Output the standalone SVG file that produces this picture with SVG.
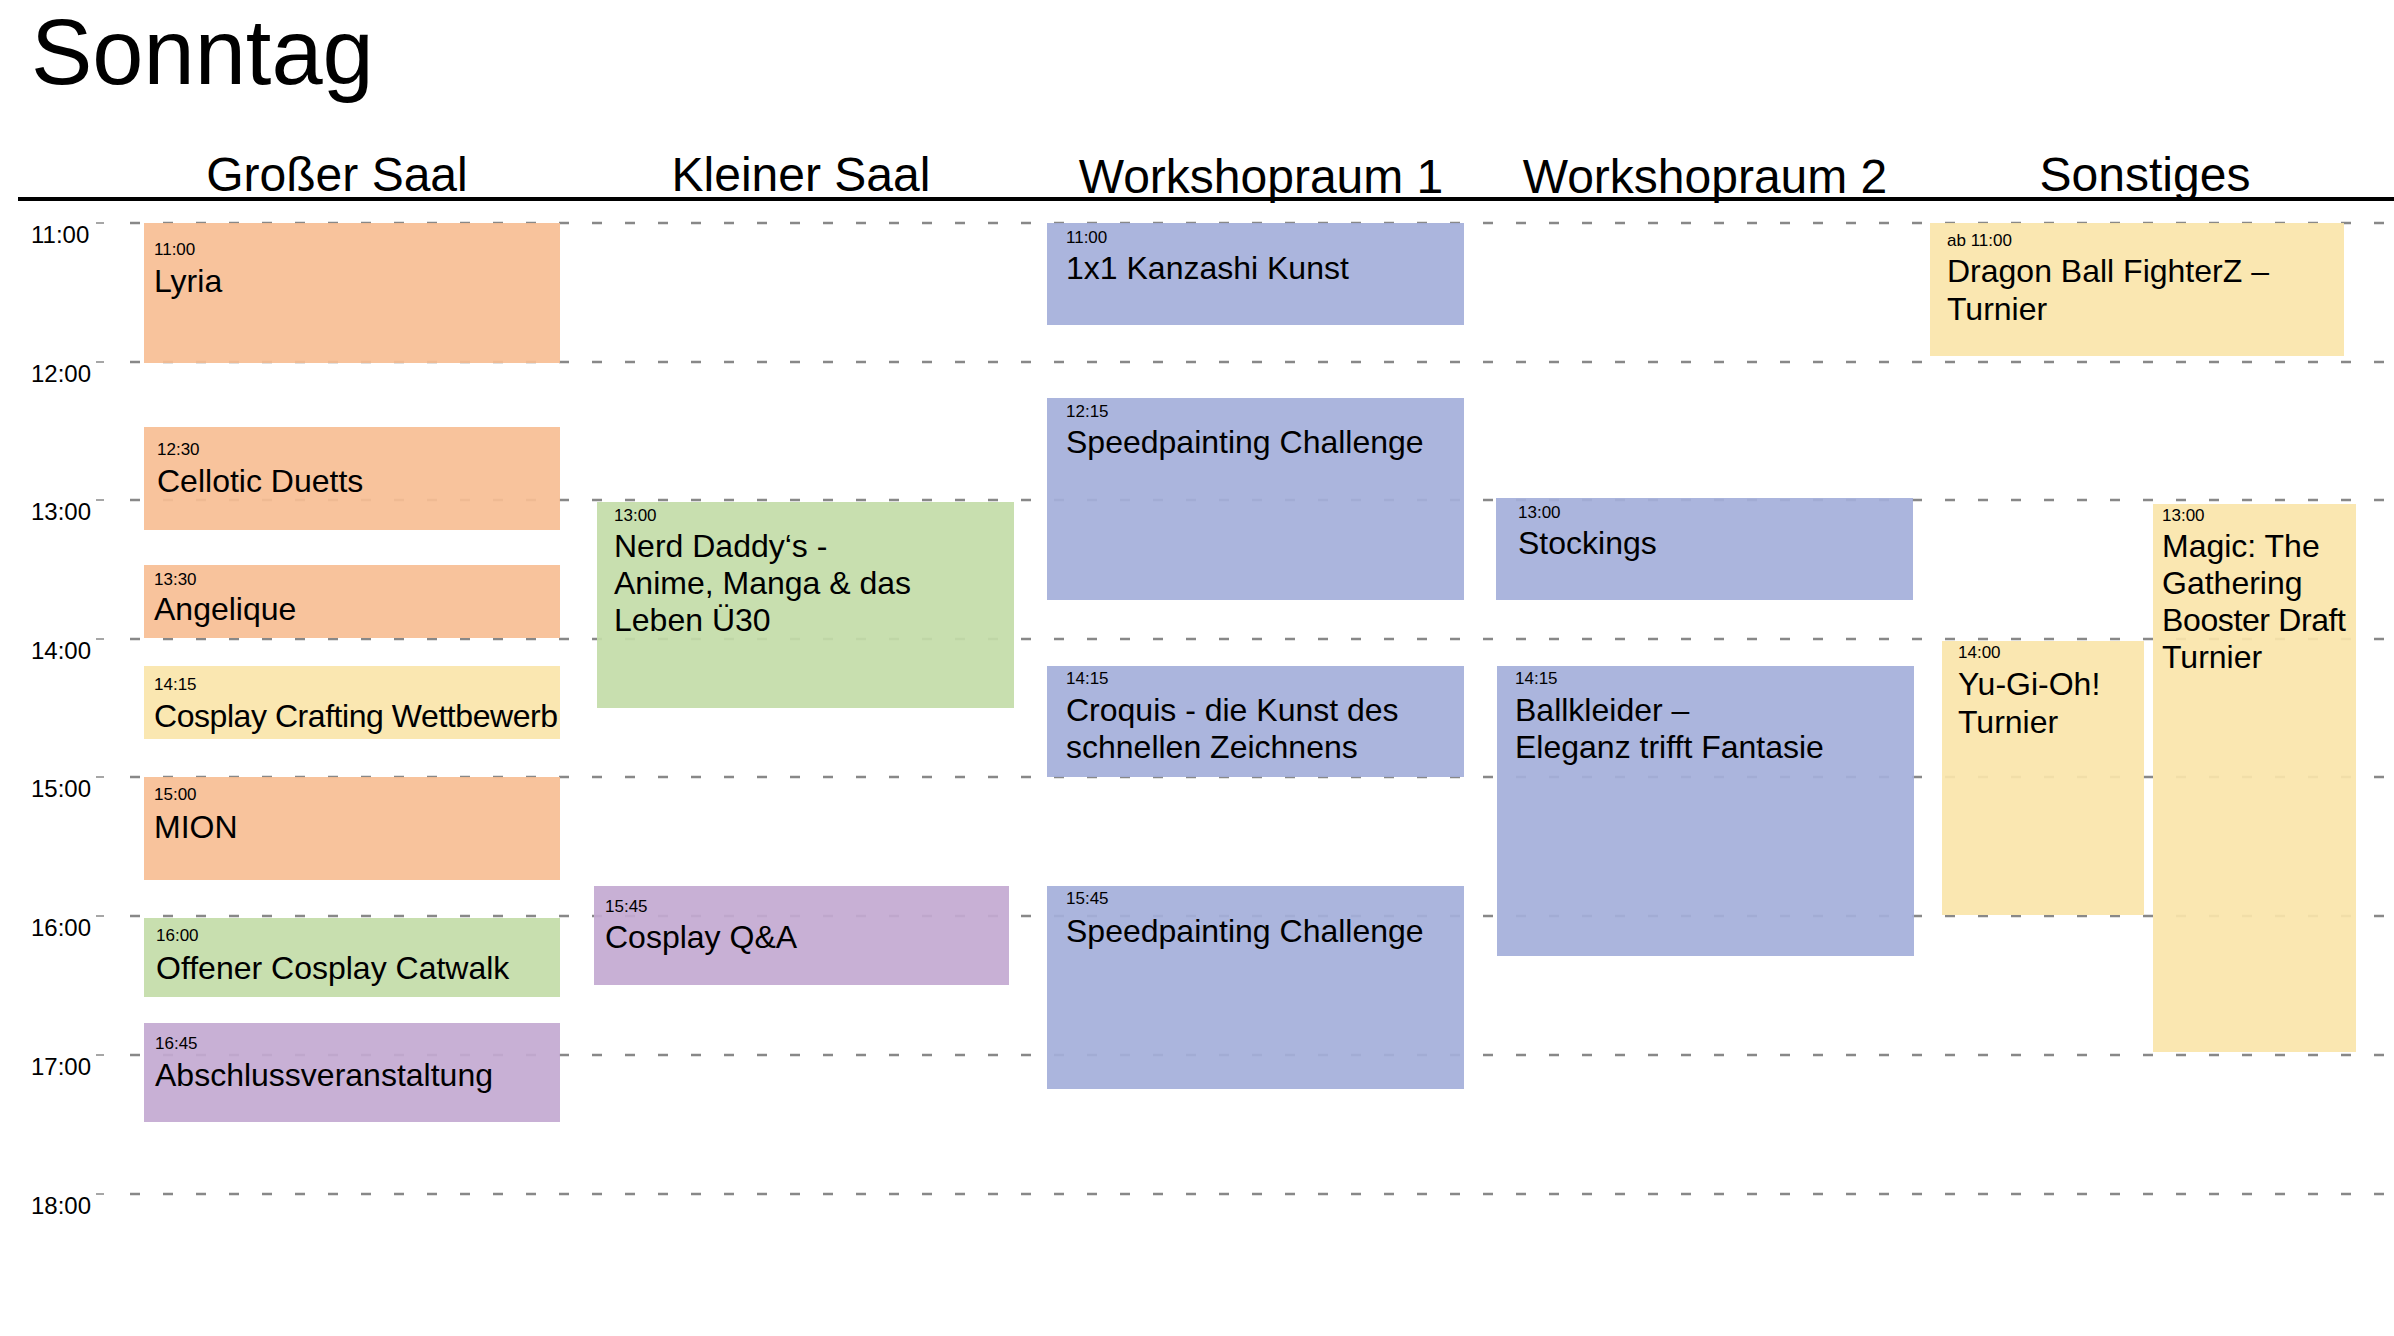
<svg xmlns="http://www.w3.org/2000/svg" width="2394" height="1336" viewBox="0 0 2394 1336">
<style>
text{font-family:"Liberation Sans",Arial,sans-serif;fill:#000}
.hd{font-size:48px;text-anchor:middle}
.hr{font-size:24px}
.t{font-size:17px}
.n{font-size:32px}
.grid{stroke:#888;stroke-width:2.5;stroke-dasharray:10 23}
.tick{stroke:#888;stroke-width:1.5}
.o{fill:#F7BE94;fill-opacity:0.92}
.g{fill:#C3DCA8;fill-opacity:0.92}
.p{fill:#C3A9D1;fill-opacity:0.92}
.b{fill:#A4AFDA;fill-opacity:0.92}
.y{fill:#FAE5AA;fill-opacity:0.92}
</style>
<rect width="2394" height="1336" fill="#fff"/>
<text x="31" y="84" font-size="92">Sonntag</text>
<g id="headers">
<text class="hd" x="337" y="191">Großer Saal</text>
<text class="hd" x="801" y="191">Kleiner Saal</text>
<text class="hd" x="1261" y="193">Workshopraum 1</text>
<text class="hd" x="1705" y="193">Workshopraum 2</text>
<text class="hd" x="2145" y="191">Sonstiges</text>
</g>
<line x1="18" y1="199" x2="2394" y2="199" stroke="#000" stroke-width="4"/>
<g id="grid">
<line class="grid" x1="130" y1="223" x2="2394" y2="223"/>
<line class="grid" x1="130" y1="362" x2="2394" y2="362"/>
<line class="grid" x1="130" y1="500" x2="2394" y2="500"/>
<line class="grid" x1="130" y1="639" x2="2394" y2="639"/>
<line class="grid" x1="130" y1="777" x2="2394" y2="777"/>
<line class="grid" x1="130" y1="916" x2="2394" y2="916"/>
<line class="grid" x1="130" y1="1055" x2="2394" y2="1055"/>
<line class="grid" x1="130" y1="1194" x2="2394" y2="1194"/>
<g class="tick">
<line x1="96" y1="223" x2="104" y2="223"/><line x1="96" y1="362" x2="104" y2="362"/>
<line x1="96" y1="500" x2="104" y2="500"/><line x1="96" y1="639" x2="104" y2="639"/>
<line x1="96" y1="777" x2="104" y2="777"/><line x1="96" y1="916" x2="104" y2="916"/>
<line x1="96" y1="1055" x2="104" y2="1055"/><line x1="96" y1="1194" x2="104" y2="1194"/>
</g>
<text class="hr" x="31" y="243">11:00</text>
<text class="hr" x="31" y="382">12:00</text>
<text class="hr" x="31" y="520">13:00</text>
<text class="hr" x="31" y="659">14:00</text>
<text class="hr" x="31" y="797">15:00</text>
<text class="hr" x="31" y="936">16:00</text>
<text class="hr" x="31" y="1075">17:00</text>
<text class="hr" x="31" y="1214">18:00</text>
</g>
<g id="lyria"><rect class="o" x="144" y="223" width="416" height="140"/><text class="t" x="154" y="255">11:00</text><text class="n" x="154" y="292">Lyria</text></g>
<g id="cellotic"><rect class="o" x="144" y="427" width="416" height="103"/><text class="t" x="157" y="455">12:30</text><text class="n" x="157" y="492">Cellotic Duetts</text></g>
<g id="angelique"><rect class="o" x="144" y="565" width="416" height="73"/><text class="t" x="154" y="585">13:30</text><text class="n" x="154" y="620">Angelique</text></g>
<g id="crafting"><rect class="y" x="144" y="666" width="416" height="73"/><text class="t" x="154" y="690">14:15</text><text class="n" x="154" y="727" textLength="404">Cosplay Crafting Wettbewerb</text></g>
<g id="mion"><rect class="o" x="144" y="777" width="416" height="103"/><text class="t" x="154" y="800">15:00</text><text class="n" x="154" y="838">MION</text></g>
<g id="catwalk"><rect class="g" x="144" y="918" width="416" height="79"/><text class="t" x="156" y="941">16:00</text><text class="n" x="156" y="979">Offener Cosplay Catwalk</text></g>
<g id="abschluss"><rect class="p" x="144" y="1023" width="416" height="99"/><text class="t" x="155" y="1049">16:45</text><text class="n" x="155" y="1086">Abschlussveranstaltung</text></g>
<g id="nerd"><rect class="g" x="597" y="502" width="417" height="206"/><text class="t" x="614" y="521">13:00</text><text class="n" x="614" y="557">Nerd Daddy‘s -</text><text class="n" x="614" y="594">Anime, Manga &amp; das</text><text class="n" x="614" y="631">Leben Ü30</text></g>
<g id="qa"><rect class="p" x="594" y="886" width="415" height="99"/><text class="t" x="605" y="912">15:45</text><text class="n" x="605" y="948">Cosplay Q&amp;A</text></g>
<g id="kanzashi"><rect class="b" x="1047" y="223" width="417" height="102"/><text class="t" x="1066" y="243">11:00</text><text class="n" x="1066" y="279">1x1 Kanzashi Kunst</text></g>
<g id="speed1"><rect class="b" x="1047" y="398" width="417" height="202"/><text class="t" x="1066" y="417">12:15</text><text class="n" x="1066" y="453">Speedpainting Challenge</text></g>
<g id="croquis"><rect class="b" x="1047" y="666" width="417" height="111"/><text class="t" x="1066" y="684">14:15</text><text class="n" x="1066" y="721">Croquis - die Kunst des</text><text class="n" x="1066" y="758">schnellen Zeichnens</text></g>
<g id="speed2"><rect class="b" x="1047" y="886" width="417" height="203"/><text class="t" x="1066" y="904">15:45</text><text class="n" x="1066" y="942">Speedpainting Challenge</text></g>
<g id="stockings"><rect class="b" x="1496" y="498" width="417" height="102"/><text class="t" x="1518" y="518">13:00</text><text class="n" x="1518" y="554">Stockings</text></g>
<g id="ballkleider"><rect class="b" x="1497" y="666" width="417" height="290"/><text class="t" x="1515" y="684">14:15</text><text class="n" x="1515" y="721">Ballkleider –</text><text class="n" x="1515" y="758">Eleganz trifft Fantasie</text></g>
<g id="dragonball"><rect class="y" x="1930" y="223" width="414" height="133"/><text class="t" x="1947" y="246">ab 11:00</text><text class="n" x="1947" y="282">Dragon Ball FighterZ –</text><text class="n" x="1947" y="320">Turnier</text></g>
<g id="yugioh"><rect class="y" x="1942" y="641" width="202" height="274"/><text class="t" x="1958" y="658">14:00</text><text class="n" x="1958" y="695">Yu-Gi-Oh!</text><text class="n" x="1958" y="733">Turnier</text></g>
<g id="magic"><rect class="y" x="2153" y="504" width="203" height="548"/><text class="t" x="2162" y="521">13:00</text><text class="n" x="2162" y="557">Magic: The</text><text class="n" x="2162" y="594">Gathering</text><text class="n" x="2162" y="631" textLength="184">Booster Draft</text><text class="n" x="2162" y="668">Turnier</text></g>
</svg>
